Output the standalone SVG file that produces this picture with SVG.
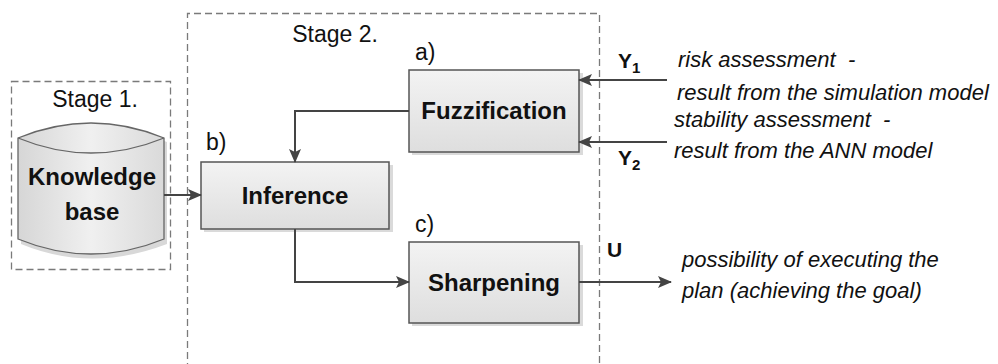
<svg xmlns="http://www.w3.org/2000/svg" width="998" height="364" viewBox="0 0 998 364">
<defs>
<linearGradient id="g" x1="0" y1="0" x2="0" y2="1">
<stop offset="0" stop-color="#f3f3f3"/>
<stop offset="1" stop-color="#dedede"/>
</linearGradient>
<linearGradient id="gc" x1="0" y1="0" x2="1" y2="0">
<stop offset="0" stop-color="#d6d6d6"/>
<stop offset="0.5" stop-color="#f0f0f0"/>
<stop offset="1" stop-color="#dadada"/>
</linearGradient>
<marker id="ah" markerWidth="14" markerHeight="12" refX="13" refY="6" orient="auto" markerUnits="userSpaceOnUse">
<path d="M0,0 L14,6 L0,12 L3,6 Z" fill="#444"/>
</marker>
</defs>
<style>
.frame{fill:none;stroke:#7a7a7a;stroke-width:1.3;stroke-dasharray:7 4}
.box{fill:url(#g);stroke:#555;stroke-width:1.5}
.shadow{fill:#dadada}
.node{font-family:"Liberation Sans",Arial,sans-serif;font-weight:bold;font-size:24px;fill:#111;text-anchor:middle}
.lbl{font-family:"Liberation Sans",Arial,sans-serif;font-size:23px;fill:#111}
.var{font-family:"Liberation Sans",Arial,sans-serif;font-weight:bold;font-size:21px;fill:#111}
.it{font-family:"Liberation Sans",Arial,sans-serif;font-style:italic;font-size:22px;fill:#111}
.con{fill:none;stroke:#444;stroke-width:2;marker-end:url(#ah)}
</style>
<rect width="998" height="364" fill="#fff"/>

<g id="stage1">
<rect class="frame" x="11.5" y="81.5" width="159" height="188"/>
<text class="lbl" x="95" y="107" text-anchor="middle">Stage 1.</text>
</g>
<g id="stage2">
<path class="frame" d="M187.5,370 V13.5 H599.5 V370"/>
<text class="lbl" x="335" y="42" text-anchor="middle">Stage 2.</text>
</g>

<g id="knowledge">
<path d="M21,142 Q91,112 167,142 V244 Q91,273 21,244 Z" fill="#d8d8d8"/>
<path d="M18,138 Q91,108 164,138 V239 Q91,269 18,239 Z" fill="url(#gc)" stroke="#666" stroke-width="1.3"/>
<path d="M18,138 Q91,168 164,138" fill="none" stroke="#666" stroke-width="1.3"/>
<text class="node" x="92" y="185">Knowledge</text>
<text class="node" x="92" y="220">base</text>
</g>

<g id="fuzzification">
<rect class="shadow" x="412" y="73" width="171" height="82"/>
<rect class="box" x="409" y="70" width="170" height="82"/>
<text class="node" x="494" y="119">Fuzzification</text>
<text class="lbl" x="415" y="60">a)</text>
</g>

<g id="inference">
<rect class="shadow" x="204" y="165" width="189" height="67"/>
<rect class="box" x="201" y="162" width="188" height="67"/>
<text class="node" x="295" y="204">Inference</text>
<text class="lbl" x="206" y="150">b)</text>
</g>

<g id="sharpening">
<rect class="shadow" x="412" y="245" width="171" height="81"/>
<rect class="box" x="409" y="242" width="170" height="81"/>
<text class="node" x="494" y="291">Sharpening</text>
<text class="lbl" x="415" y="232">c)</text>
</g>

<g id="connectors">
<path class="con" d="M164,195 H201"/>
<path class="con" d="M409,111 H295 V162"/>
<path class="con" d="M295,229 V282 H409"/>
<path class="con" d="M667,80 H579"/>
<path class="con" d="M667,142 H579"/>
<path class="con" d="M579,282 H671"/>
</g>

<g id="labels">
<text class="var" x="618" y="68">Y<tspan font-size="15" dy="5">1</tspan></text>
<text class="var" x="618" y="165">Y<tspan font-size="15" dy="5">2</tspan></text>
<text class="var" x="607" y="257">U</text>
<text class="it" x="678" y="67" xml:space="preserve">risk assessment  -</text>
<text class="it" x="677" y="100">result from the simulation model</text>
<text class="it" x="674" y="127" xml:space="preserve">stability assessment  -</text>
<text class="it" x="674" y="158">result from the ANN model</text>
<text class="it" x="682" y="267">possibility of executing the</text>
<text class="it" x="682" y="298">plan (achieving the goal)</text>
</g>
</svg>
